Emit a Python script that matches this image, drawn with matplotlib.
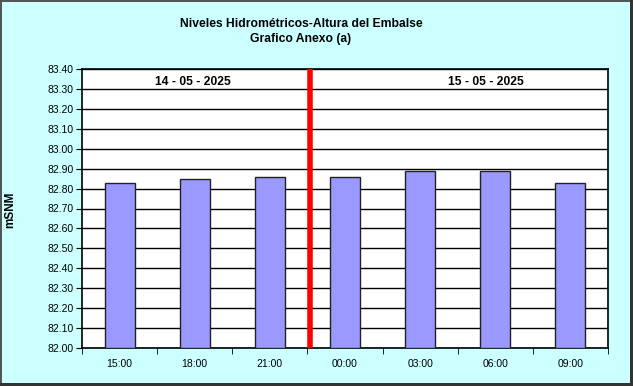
import matplotlib
matplotlib.use("Agg")
import matplotlib.pyplot as plt
from matplotlib.patches import Rectangle
import numpy as np

plt.rcParams['font.family'] = ['Liberation Sans', 'DejaVu Sans']

categories = ["15:00", "18:00", "21:00", "00:00", "03:00", "06:00", "09:00"]
values = [82.83, 82.85, 82.86, 82.86, 82.89, 82.89, 82.83]
yticks = [82.00 + 0.10 * i for i in range(15)]
day_labels = ["14 - 05 - 2025", "15 - 05 - 2025"]
title_lines = ["Niveles Hidrométricos-Altura del Embalse", "Grafico Anexo (a)"]
ylabel = "mSNM"

bg = "#CCFFFF"
fig = plt.figure(figsize=(6.33, 3.86), dpi=100)
fig.patch.set_facecolor(bg)

W, H = 633, 386
# outer frame: thin gray left/top, thicker dark right/bottom
fig.patches.append(Rectangle((0, 0), 2 / W, 1, transform=fig.transFigure,
                             facecolor="#555555", edgecolor="none", zorder=-1))
fig.patches.append(Rectangle((0, 1 - 2 / H), 1, 2 / H, transform=fig.transFigure,
                             facecolor="#555555", edgecolor="none", zorder=-1))
fig.patches.append(Rectangle((1 - 3 / W, 0), 3 / W, 1, transform=fig.transFigure,
                             facecolor="#333333", edgecolor="none", zorder=-1))
fig.patches.append(Rectangle((0, 0), 1, 3 / H, transform=fig.transFigure,
                             facecolor="#333333", edgecolor="none", zorder=-1))

ax = fig.add_axes([82 / W, 38 / H, 526 / W, 279 / H])
ax.set_facecolor("white")
x = np.arange(len(categories))
ax.bar(x, np.array(values) - 82.0, bottom=82.0, width=0.4, color="#9999FF",
       edgecolor="#222222", linewidth=1.0, zorder=3)
ax.set_xlim(-0.5, len(categories) - 0.5)
ax.set_ylim(82.0, 83.4)
ax.set_yticks(yticks)
ax.set_yticklabels([f"{v:.2f}" for v in yticks], fontsize=7.5)
ax.yaxis.grid(True, color="#000000", linewidth=1.0, zorder=1)
ax.set_axisbelow(True)

ax.set_xticks(x)
ax.set_xticklabels(categories, fontsize=7.5)
ax.tick_params(axis="x", length=0, pad=8)
ax.set_xticks(np.arange(len(categories) + 1) - 0.5, minor=True)
ax.tick_params(axis="x", which="minor", length=4, direction="out", color="#000000")
ax.tick_params(axis="y", length=4, direction="out", pad=2)

for s in ax.spines.values():
    s.set_linewidth(1.2)
    s.set_color("black")

ax.axvline(2.53, color="#FF0000", linewidth=4, zorder=4)

ax.text(0.97, 83.335, day_labels[0], ha="center", va="center", fontsize=8.7, fontweight="bold", zorder=5)
ax.text(4.88, 83.335, day_labels[1], ha="center", va="center", fontsize=8.7, fontweight="bold", zorder=5)

fig.text(301 / W, 1 - 24 / H, title_lines[0], ha="center", va="center", fontsize=8.7, fontweight="bold")
fig.text(301 / W, 1 - 39 / H, title_lines[1], ha="center", va="center", fontsize=8.7, fontweight="bold")
fig.text(10 / W, 1 - 210 / H, ylabel, ha="center", va="center", rotation=90, fontsize=8.5, fontweight="bold")

fig.savefig("out.png", dpi=100, facecolor=fig.get_facecolor())
